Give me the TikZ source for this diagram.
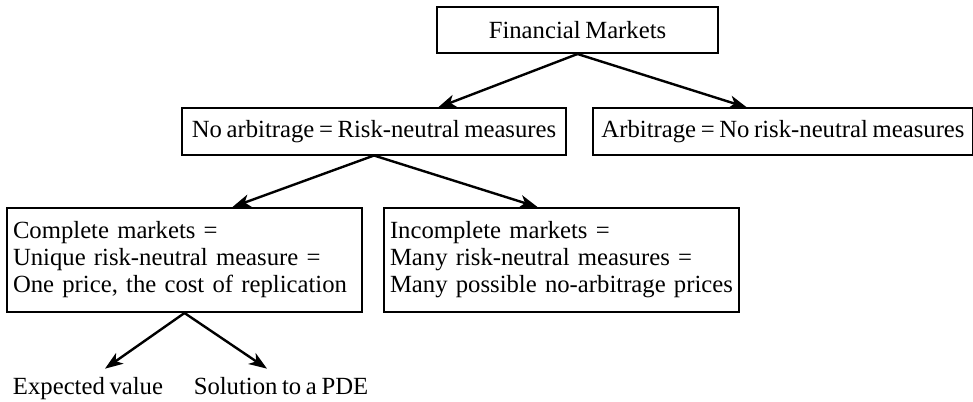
\documentclass[tikz,border=0pt]{standalone}
\usepackage{fontspec}
\setmainfont{Liberation Serif}[WordSpace=0.75]
\usetikzlibrary{calc,positioning,arrows.meta}

\begin{document}
\begin{tikzpicture}[
  x=1pt, y=1pt,
  box/.style={draw, line width=2pt, minimum height=46pt, inner xsep=6pt, align=center,
    font=\fontsize{24.7}{27}\selectfont},
  tallbox/.style={box, align=left, text width=343pt, minimum height=104pt},
  leaf/.style={inner sep=0pt, anchor=base, font=\fontsize{24.7}{27}\selectfont},
  arr/.style={-{Stealth[length=18pt, width=13pt, inset=5pt]}, line width=2.4pt}
]
\useasboundingbox (0,0) rectangle (973,-401);

\node[box, minimum width=281pt] (fin) at (577.5,-30) {Financial Markets};
\node[box, minimum width=384pt] (noarb) at (374,-131.5) {No arbitrage = Risk-neutral measures};
\node[box, minimum width=380pt, right=25pt of noarb] (arb) {Arbitrage = No risk-neutral measures};

\node[tallbox] (comp) at (184.5,-260) {Complete markets =\\Unique risk-neutral measure =\\One price, the cost of replication};
\node[tallbox, right=20pt of comp] (incomp) {Incomplete markets =\\Many risk-neutral measures =\\Many possible no-arbitrage prices};

\node[leaf] (expv) at (88,-394) {Expected value};
\node[leaf] (pde) at (281,-394) {Solution to a PDE};

\draw[arr] (fin.south) -- ([xshift=64pt]noarb.north);
\draw[arr] (fin.south) -- ([xshift=-36pt]arb.north);
\draw[arr] (noarb.south) -- ([xshift=48pt]comp.north);
\draw[arr] (noarb.south) -- ([xshift=-24pt]incomp.north);
\draw[arr] (comp.south) -- ([xshift=17pt, yshift=8pt]expv.north);
\draw[arr] (comp.south) -- ([xshift=-14pt, yshift=8pt]pde.north);
\end{tikzpicture}
\end{document}
